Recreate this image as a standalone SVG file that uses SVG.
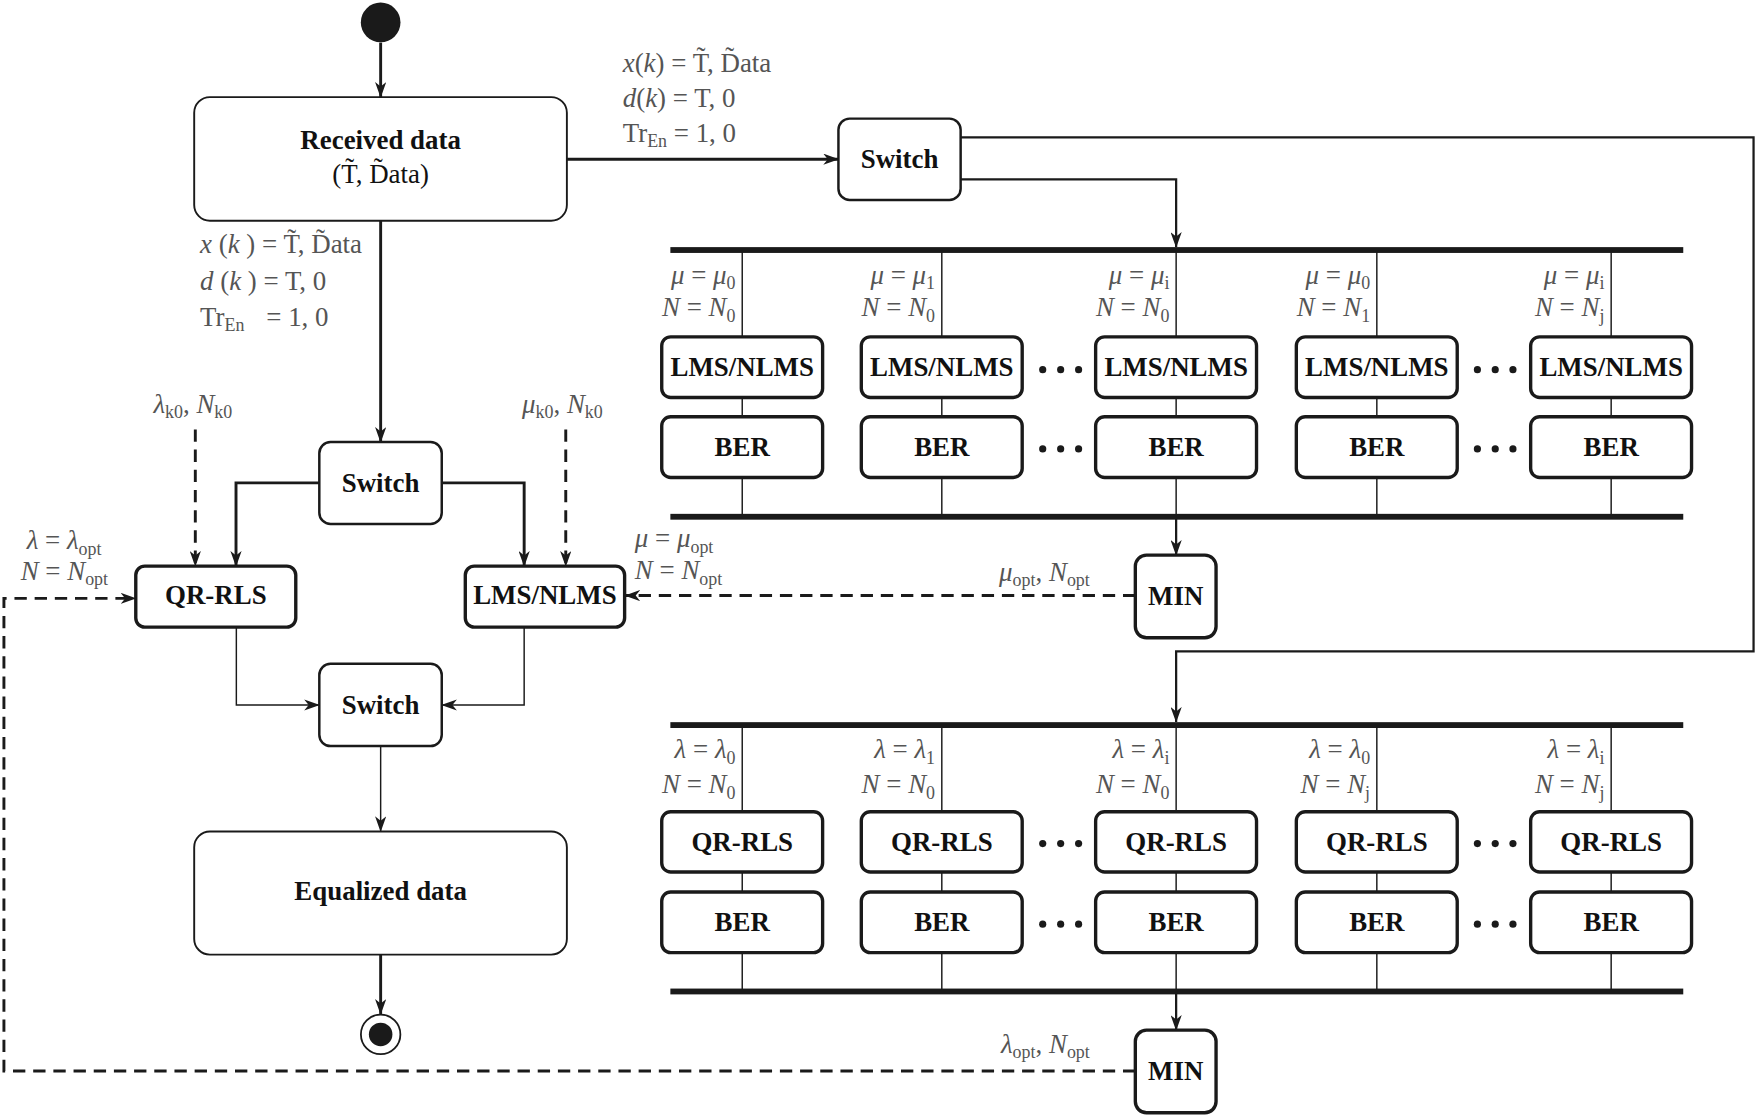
<svg xmlns="http://www.w3.org/2000/svg" width="1758" height="1117" viewBox="0 0 1758 1117">
<defs>
<style>
.box{fill:#fff;stroke:#1a1a1a;stroke-width:3}
.big{stroke-width:1.7}
.sw{stroke-width:2.2}
.t{font-family:"Liberation Serif","Times New Roman",serif;font-weight:bold;font-size:24px;fill:#111;text-anchor:middle}
.tr{font-family:"Liberation Serif","Times New Roman",serif;font-size:24px;fill:#111;text-anchor:middle}
.lb{font-family:"Liberation Serif","Times New Roman",serif;font-size:24px;fill:#555}
.e{text-anchor:end}
.i{font-style:italic}
.sub{font-size:16px}
.c{fill:none;stroke:#1a1a1a}
.thick{stroke-width:2.6}
.med{stroke-width:2}
.thin{stroke-width:1.3}
.dash{stroke-dasharray:11 7;stroke-width:2.6}
.bus{fill:#1a1a1a}
</style>
<marker id="ah" markerWidth="14" markerHeight="10" refX="13.5" refY="5" orient="auto" markerUnits="userSpaceOnUse">
<path d="M0,0 L14,5 L0,10 L4,5 z" fill="#1a1a1a"/>
</marker>
</defs>
<rect width="1758" height="1117" fill="#fff"/>
<g transform="scale(1.1212)">

<g id="connectors">
<path class="c thick" d="M339.5,38 V86.6" marker-end="url(#ah)"/>
<path class="c thick" d="M505.6,142 H747.8" marker-end="url(#ah)"/>
<path class="c med" d="M856.8,122.6 H1564 V581 H1049 V644" marker-end="url(#ah)"/>
<path class="c med" d="M856.8,160 H1049 V220.5" marker-end="url(#ah)"/>
<path class="c thin" d="M662,223 V300.4 M840,223 V300.4 M1049,223 V300.4 M1228,223 V300.4 M1437,223 V300.4"/>
<path class="c thin" d="M662,354.5 V371.7 M840,354.5 V371.7 M1049,354.5 V371.7 M1228,354.5 V371.7 M1437,354.5 V371.7"/>
<path class="c thin" d="M662,425.9 V461 M840,425.9 V461 M1049,425.9 V461 M1228,425.9 V461 M1437,425.9 V461"/>
<path class="c med" d="M1049,461 V495.1" marker-end="url(#ah)"/>
<path class="c dash" d="M1012.6,531.2 H557.5" marker-end="url(#ah)"/>
<path class="c thin" d="M662,646.7 V724 M840,646.7 V724 M1049,646.7 V724 M1228,646.7 V724 M1437,646.7 V724"/>
<path class="c thin" d="M662,777.7 V795.6 M840,777.7 V795.6 M1049,777.7 V795.6 M1228,777.7 V795.6 M1437,777.7 V795.6"/>
<path class="c thin" d="M662,849.6 V884.3 M840,849.6 V884.3 M1049,849.6 V884.3 M1228,849.6 V884.3 M1437,849.6 V884.3"/>
<path class="c med" d="M1049,884.3 V918.8" marker-end="url(#ah)"/>
<path class="c dash" d="M1012.6,955.2 H3.5 V533.7 H121.1" marker-end="url(#ah)"/>
<path class="c thick" d="M339.5,197 V394.3" marker-end="url(#ah)"/>
<path class="c thick" d="M284.8,430.7 H210.5 V504.9" marker-end="url(#ah)"/>
<path class="c thick" d="M394,430.7 H467.5 V504.9" marker-end="url(#ah)"/>
<path class="c dash" d="M174.2,383 V504.9" marker-end="url(#ah)"/>
<path class="c dash" d="M504.6,383 V504.9" marker-end="url(#ah)"/>
<path class="c thin" d="M210.8,559.3 V628.8 H284.8" marker-end="url(#ah)"/>
<path class="c thin" d="M467.5,559.3 V628.8 H394" marker-end="url(#ah)"/>
<path class="c thin" d="M339.5,665.4 V741.6" marker-end="url(#ah)"/>
<path class="c thick" d="M339.5,851.4 V904.6" marker-end="url(#ah)"/>
</g>

<g id="buses">
<rect class="bus" x="597.9" y="220.4" width="903.4" height="5.2"/>
<rect class="bus" x="597.9" y="458.3" width="903.4" height="5.2"/>
<rect class="bus" x="597.9" y="644.1" width="903.4" height="5.2"/>
<rect class="bus" x="597.9" y="881.7" width="903.4" height="5.2"/>
</g>

<g id="start"><circle cx="339.5" cy="20" r="17.7" fill="#1a1a1a"/></g>

<g id="received">
<rect class="box big" x="173.2" y="86.6" width="332.4" height="110.3" rx="14"/>
<text class="t" x="339.5" y="132.5">Received data</text>
<text class="tr" x="339.5" y="163">(T̃, D̃ata)</text>
</g>

<g id="label-right-top">
<text class="lb" x="555.4" y="64"><tspan class="i">x</tspan>(<tspan class="i">k</tspan>) = T̃, D̃ata</text>
<text class="lb" x="555.4" y="95.5"><tspan class="i">d</tspan>(<tspan class="i">k</tspan>) = T, 0</text>
<text class="lb" x="555.4" y="126.5">Tr<tspan class="sub" dy="5">En</tspan><tspan dy="-5"> = 1, 0</tspan></text>
</g>

<g id="label-left-top">
<text class="lb" x="178.4" y="226" xml:space="preserve"><tspan class="i">x</tspan> (<tspan class="i">k</tspan> ) = T̃, D̃ata</text>
<text class="lb" x="178.4" y="258.5" xml:space="preserve"><tspan class="i">d</tspan> (<tspan class="i">k</tspan> ) = T, 0</text>
<text class="lb" x="178.4" y="290.5">Tr<tspan class="sub" dy="5">En</tspan><tspan x="237.5" dy="-5">= 1, 0</tspan></text>
</g>

<g id="switch1">
<rect class="box sw" x="747.8" y="105.8" width="109" height="72.6" rx="10"/>
<text class="t" x="802.3" y="150">Switch</text>
</g>

<g id="switch2">
<rect class="box sw" x="284.8" y="394.3" width="109.2" height="73" rx="10"/>
<text class="t" x="339.4" y="438.5">Switch</text>
</g>

<g id="switch3">
<rect class="box sw" x="284.8" y="592" width="109.2" height="73.4" rx="10"/>
<text class="t" x="339.4" y="636.5">Switch</text>
</g>

<g id="qrrls-main">
<rect class="box" x="121.1" y="504.9" width="142.7" height="54.4" rx="8"/>
<text class="t" x="192.5" y="539">QR-RLS</text>
</g>

<g id="lms-main">
<rect class="box" x="415" y="504.9" width="142.1" height="54.4" rx="8"/>
<text class="t" x="486" y="539">LMS/NLMS</text>
</g>

<g id="labels-left">
<text class="lb" x="136.8" y="368"><tspan class="i">λ</tspan><tspan class="sub" dy="5">k0</tspan><tspan dy="-5">, </tspan><tspan class="i">N</tspan><tspan class="sub" dy="5">k0</tspan></text>
<text class="lb" x="465.6" y="368"><tspan class="i">μ</tspan><tspan class="sub" dy="5">k0</tspan><tspan dy="-5">, </tspan><tspan class="i">N</tspan><tspan class="sub" dy="5">k0</tspan></text>
<text class="lb" x="23.8" y="490"><tspan class="i">λ</tspan> = <tspan class="i">λ</tspan><tspan class="sub" dy="5">opt</tspan></text>
<text class="lb" x="18.4" y="517"><tspan class="i">N</tspan> = <tspan class="i">N</tspan><tspan class="sub" dy="5">opt</tspan></text>
<text class="lb" x="566.2" y="488"><tspan class="i">μ</tspan> = <tspan class="i">μ</tspan><tspan class="sub" dy="5">opt</tspan></text>
<text class="lb" x="566.2" y="516.5"><tspan class="i">N</tspan> = <tspan class="i">N</tspan><tspan class="sub" dy="5">opt</tspan></text>
<text class="lb e" x="972" y="518"><tspan class="i">μ</tspan><tspan class="sub" dy="5">opt</tspan><tspan dy="-5">, </tspan><tspan class="i">N</tspan><tspan class="sub" dy="5">opt</tspan></text>
<text class="lb e" x="972" y="939"><tspan class="i">λ</tspan><tspan class="sub" dy="5">opt</tspan><tspan dy="-5">, </tspan><tspan class="i">N</tspan><tspan class="sub" dy="5">opt</tspan></text>
</g>

<g id="equalized">
<rect class="box big" x="173.2" y="741.6" width="332.4" height="109.8" rx="14"/>
<text class="t" x="339.5" y="803">Equalized data</text>
</g>

<g id="end">
<circle cx="339.5" cy="922.6" r="17.6" fill="#fff" stroke="#1a1a1a" stroke-width="1.6"/>
<circle cx="339.5" cy="922.6" r="10.5" fill="#1a1a1a"/>
</g>

<g id="lms-col1">
<rect class="box" x="590.2" y="300.4" width="143.5" height="54.1" rx="8"/><text class="t" x="662" y="335.5">LMS/NLMS</text>
<rect class="box" x="590.2" y="371.7" width="143.5" height="54.2" rx="8"/><text class="t" x="662" y="407">BER</text>
<text class="lb e" x="656" y="253"><tspan class="i">μ</tspan> = <tspan class="i">μ</tspan><tspan class="sub" dy="5">0</tspan></text>
<text class="lb e" x="656" y="282"><tspan class="i">N</tspan> = <tspan class="i">N</tspan><tspan class="sub" dy="5">0</tspan></text>
</g>
<g id="lms-col2">
<rect class="box" x="768.2" y="300.4" width="143.5" height="54.1" rx="8"/><text class="t" x="840" y="335.5">LMS/NLMS</text>
<rect class="box" x="768.2" y="371.7" width="143.5" height="54.2" rx="8"/><text class="t" x="840" y="407">BER</text>
<text class="lb e" x="834" y="253"><tspan class="i">μ</tspan> = <tspan class="i">μ</tspan><tspan class="sub" dy="5">1</tspan></text>
<text class="lb e" x="834" y="282"><tspan class="i">N</tspan> = <tspan class="i">N</tspan><tspan class="sub" dy="5">0</tspan></text>
</g>
<g id="lms-col3">
<rect class="box" x="977.2" y="300.4" width="143.5" height="54.1" rx="8"/><text class="t" x="1049" y="335.5">LMS/NLMS</text>
<rect class="box" x="977.2" y="371.7" width="143.5" height="54.2" rx="8"/><text class="t" x="1049" y="407">BER</text>
<text class="lb e" x="1043" y="253"><tspan class="i">μ</tspan> = <tspan class="i">μ</tspan><tspan class="sub" dy="5">i</tspan></text>
<text class="lb e" x="1043" y="282"><tspan class="i">N</tspan> = <tspan class="i">N</tspan><tspan class="sub" dy="5">0</tspan></text>
</g>
<g id="lms-col4">
<rect class="box" x="1156.2" y="300.4" width="143.5" height="54.1" rx="8"/><text class="t" x="1228" y="335.5">LMS/NLMS</text>
<rect class="box" x="1156.2" y="371.7" width="143.5" height="54.2" rx="8"/><text class="t" x="1228" y="407">BER</text>
<text class="lb e" x="1222" y="253"><tspan class="i">μ</tspan> = <tspan class="i">μ</tspan><tspan class="sub" dy="5">0</tspan></text>
<text class="lb e" x="1222" y="282"><tspan class="i">N</tspan> = <tspan class="i">N</tspan><tspan class="sub" dy="5">1</tspan></text>
</g>
<g id="lms-col5">
<rect class="box" x="1365.2" y="300.4" width="143.5" height="54.1" rx="8"/><text class="t" x="1437" y="335.5">LMS/NLMS</text>
<rect class="box" x="1365.2" y="371.7" width="143.5" height="54.2" rx="8"/><text class="t" x="1437" y="407">BER</text>
<text class="lb e" x="1431" y="253"><tspan class="i">μ</tspan> = <tspan class="i">μ</tspan><tspan class="sub" dy="5">i</tspan></text>
<text class="lb e" x="1431" y="282"><tspan class="i">N</tspan> = <tspan class="i">N</tspan><tspan class="sub" dy="5">j</tspan></text>
</g>

<g id="qr-col1">
<rect class="box" x="590.2" y="724" width="143.5" height="53.7" rx="8"/><text class="t" x="662" y="759">QR-RLS</text>
<rect class="box" x="590.2" y="795.6" width="143.5" height="54" rx="8"/><text class="t" x="662" y="830.5">BER</text>
<text class="lb e" x="656" y="676.5"><tspan class="i">λ</tspan> = <tspan class="i">λ</tspan><tspan class="sub" dy="5">0</tspan></text>
<text class="lb e" x="656" y="707.5"><tspan class="i">N</tspan> = <tspan class="i">N</tspan><tspan class="sub" dy="5">0</tspan></text>
</g>
<g id="qr-col2">
<rect class="box" x="768.2" y="724" width="143.5" height="53.7" rx="8"/><text class="t" x="840" y="759">QR-RLS</text>
<rect class="box" x="768.2" y="795.6" width="143.5" height="54" rx="8"/><text class="t" x="840" y="830.5">BER</text>
<text class="lb e" x="834" y="676.5"><tspan class="i">λ</tspan> = <tspan class="i">λ</tspan><tspan class="sub" dy="5">1</tspan></text>
<text class="lb e" x="834" y="707.5"><tspan class="i">N</tspan> = <tspan class="i">N</tspan><tspan class="sub" dy="5">0</tspan></text>
</g>
<g id="qr-col3">
<rect class="box" x="977.2" y="724" width="143.5" height="53.7" rx="8"/><text class="t" x="1049" y="759">QR-RLS</text>
<rect class="box" x="977.2" y="795.6" width="143.5" height="54" rx="8"/><text class="t" x="1049" y="830.5">BER</text>
<text class="lb e" x="1043" y="676.5"><tspan class="i">λ</tspan> = <tspan class="i">λ</tspan><tspan class="sub" dy="5">i</tspan></text>
<text class="lb e" x="1043" y="707.5"><tspan class="i">N</tspan> = <tspan class="i">N</tspan><tspan class="sub" dy="5">0</tspan></text>
</g>
<g id="qr-col4">
<rect class="box" x="1156.2" y="724" width="143.5" height="53.7" rx="8"/><text class="t" x="1228" y="759">QR-RLS</text>
<rect class="box" x="1156.2" y="795.6" width="143.5" height="54" rx="8"/><text class="t" x="1228" y="830.5">BER</text>
<text class="lb e" x="1222" y="676.5"><tspan class="i">λ</tspan> = <tspan class="i">λ</tspan><tspan class="sub" dy="5">0</tspan></text>
<text class="lb e" x="1222" y="707.5"><tspan class="i">N</tspan> = <tspan class="i">N</tspan><tspan class="sub" dy="5">j</tspan></text>
</g>
<g id="qr-col5">
<rect class="box" x="1365.2" y="724" width="143.5" height="53.7" rx="8"/><text class="t" x="1437" y="759">QR-RLS</text>
<rect class="box" x="1365.2" y="795.6" width="143.5" height="54" rx="8"/><text class="t" x="1437" y="830.5">BER</text>
<text class="lb e" x="1431" y="676.5"><tspan class="i">λ</tspan> = <tspan class="i">λ</tspan><tspan class="sub" dy="5">i</tspan></text>
<text class="lb e" x="1431" y="707.5"><tspan class="i">N</tspan> = <tspan class="i">N</tspan><tspan class="sub" dy="5">j</tspan></text>
</g>

<g id="dots" fill="#1a1a1a">
<circle cx="930" cy="329.7" r="3.2"/><circle cx="946" cy="329.7" r="3.2"/><circle cx="962" cy="329.7" r="3.2"/>
<circle cx="1317.7" cy="329.7" r="3.2"/><circle cx="1333.6" cy="329.7" r="3.2"/><circle cx="1349.4" cy="329.7" r="3.2"/>
<circle cx="930" cy="400.4" r="3.2"/><circle cx="946" cy="400.4" r="3.2"/><circle cx="962" cy="400.4" r="3.2"/>
<circle cx="1317.7" cy="400.4" r="3.2"/><circle cx="1333.6" cy="400.4" r="3.2"/><circle cx="1349.4" cy="400.4" r="3.2"/>
<circle cx="930" cy="752.4" r="3.2"/><circle cx="946" cy="752.4" r="3.2"/><circle cx="962" cy="752.4" r="3.2"/>
<circle cx="1317.7" cy="752.4" r="3.2"/><circle cx="1333.6" cy="752.4" r="3.2"/><circle cx="1349.4" cy="752.4" r="3.2"/>
<circle cx="930" cy="824.3" r="3.2"/><circle cx="946" cy="824.3" r="3.2"/><circle cx="962" cy="824.3" r="3.2"/>
<circle cx="1317.7" cy="824.3" r="3.2"/><circle cx="1333.6" cy="824.3" r="3.2"/><circle cx="1349.4" cy="824.3" r="3.2"/>
</g>

<g id="min1">
<rect class="box" x="1012.6" y="495.1" width="72" height="73.7" rx="10"/>
<text class="t" x="1048.6" y="540">MIN</text>
</g>
<g id="min2">
<rect class="box" x="1012.6" y="918.8" width="72" height="73.7" rx="10"/>
<text class="t" x="1048.6" y="963.5">MIN</text>
</g>

</g>
</svg>
